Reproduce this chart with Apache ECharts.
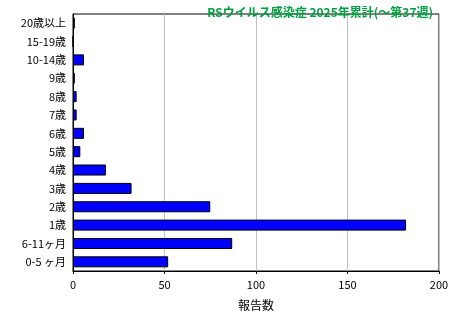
<!DOCTYPE html>
<html>
<head>
  <meta charset="utf-8">
  <title>RSウイルス感染症</title>
  <script src="https://cdn.jsdelivr.net/npm/echarts@6/dist/echarts.min.js"></script>
  <style>
    html, body { margin: 0; padding: 0; background: #fff; }
  </style>
</head>
<body>
  <div id="main" style="width:460px;height:320px;"></div>
  <script type="text/javascript">
    // 年齢群（下から上の順）
    var ageGroups = ['0-5 ヶ月', '6-11ヶ月', '1歳', '2歳', '3歳', '4歳', '5歳', '6歳', '7歳', '8歳', '9歳', '10-14歳', '15-19歳', '20歳以上'];
    // 報告数
    var reports = [52, 87, 182, 75, 32, 18, 4, 6, 2, 2, 1, 6, 0, 1];
    var xTicks = [0, 50, 100, 150, 200];

    var myChart = echarts.init(document.getElementById('main'));
    var font = '"Noto Sans CJK JP", sans-serif';

    var option = {
      animation: false,
      title: {
        text: 'RSウイルス感染症 2025年累計(〜第37週)',
        right: 22,
        top: 1,
        textStyle: { color: '#00a040', fontSize: 12, fontWeight: 'bold', fontFamily: font }
      },
      grid: { left: 73, right: 21, top: 14, bottom: 49, show: true, borderColor: '#000', borderWidth: 1 },
      xAxis: {
        type: 'value',
        min: xTicks[0],
        max: xTicks[xTicks.length - 1],
        interval: 50,
        name: '報告数',
        nameLocation: 'middle',
        nameGap: 28,
        nameTextStyle: { color: '#000', fontSize: 12, fontFamily: font },
        axisLine: { show: true, lineStyle: { color: '#000' } },
        axisTick: { show: true, length: 3, inside: false, lineStyle: { color: '#000' } },
        axisLabel: { color: '#000', fontSize: 11, fontFamily: font, margin: 8 },
        splitLine: { show: true, lineStyle: { color: '#c0c0c0' } }
      },
      yAxis: {
        type: 'category',
        data: ageGroups,
        axisLine: { show: true, lineStyle: { color: '#000' } },
        axisTick: { show: false },
        axisLabel: { color: '#000', fontSize: 11, fontFamily: font, margin: 7 }
      },
      series: [{
        name: '報告数',
        type: 'bar',
        data: reports,
        barCategoryGap: '40%',
        itemStyle: { color: '#0000ff', borderColor: '#000', borderWidth: 1 }
      }]
    };

    myChart.setOption(option);
  </script>
</body>
</html>
